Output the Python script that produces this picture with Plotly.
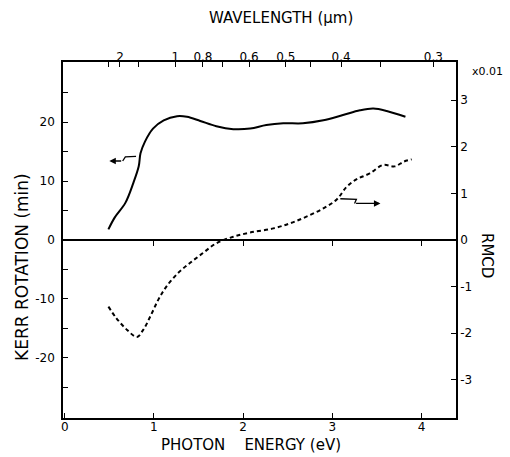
import plotly.graph_objects as go

# ---- data ----
kerr_energy = [0.49, 0.56, 0.68, 0.77, 0.83, 0.85, 0.90, 0.99, 1.11, 1.26, 1.37, 1.52, 1.70,
               1.89, 2.08, 2.26, 2.45, 2.67, 2.90, 3.12, 3.31, 3.46, 3.61, 3.82]
kerr_rot = [1.8, 3.8, 6.3, 9.7, 12.5, 14.7, 16.7, 18.9, 20.3, 21.0, 20.9, 20.2, 19.3,
            18.8, 18.9, 19.5, 19.8, 19.8, 20.3, 21.2, 22.0, 22.3, 21.9, 20.9]

rmcd_energy = [0.49, 0.58, 0.70, 0.81, 0.88, 0.96, 1.05, 1.14, 1.27, 1.40, 1.55, 1.70, 1.89,
               2.08, 2.34, 2.53, 2.71, 2.90, 3.05, 3.16, 3.27, 3.42, 3.57, 3.70, 3.80, 3.89]
rmcd = [-1.43, -1.68, -1.93, -2.08, -1.93, -1.64, -1.28, -1.00, -0.71, -0.50, -0.28, -0.07, 0.07,
        0.16, 0.25, 0.36, 0.50, 0.68, 0.87, 1.14, 1.30, 1.43, 1.61, 1.58, 1.68, 1.73]

energy_ticks = [0, 1, 2, 3, 4]
energy_ticktext = ["0", "1", "2", "3", "4"]
kerr_ticks = [-20, -10, 0, 10, 20]
kerr_ticktext = ["-20", "-10", "0", "10", "20"]
kerr_minor_ticks = [-25, -15, -5, 5, 15, 25]
rmcd_ticks = [-3, -2, -1, 0, 1, 2, 3]
rmcd_ticktext = ["-3", "-2", "-1", "0", "1", "2", "3"]
wl_ticks = [2.5, 2, 1.5, 1, 0.8, 0.7, 0.6, 0.5, 0.45, 0.4, 0.35, 0.3]
wl_ticktext = ["", "2", "", "1", "0.8", "", "0.6", "0.5", "", "0.4", "", "0.3"]
HC = 1.2398  # eV*um

# ---- layout constants ----
XR = [-0.019, 4.387]
YR = [-30.2, 30.2]
Y2R = [-3.82, 3.82]
FONT = "DejaVu Sans"
tickfont = dict(family=FONT, size=12, color="black")

fig = go.Figure()
fig.add_trace(go.Scatter(x=kerr_energy, y=kerr_rot, mode="lines", line=dict(color="black", width=2, shape="spline"),
                         showlegend=False, hoverinfo="skip"))
fig.add_trace(go.Scatter(x=rmcd_energy, y=rmcd, mode="lines", yaxis="y2",
                         line=dict(color="black", width=2, dash="4px,3px", shape="spline"),
                         showlegend=False, hoverinfo="skip"))
# empty traces to register auxiliary axes
fig.add_trace(go.Scatter(x=[], y=[], xaxis="x2", showlegend=False))
fig.add_trace(go.Scatter(x=[], y=[], xaxis="x3", showlegend=False))

axcommon = dict(showgrid=False, zeroline=False, showline=True, linecolor="black", linewidth=1.5,
                ticklen=5, tickwidth=1.3, tickcolor="black", tickfont=tickfont)

fig.update_layout(
    width=510, height=457,
    margin=dict(l=63, r=54, t=62, b=39),
    paper_bgcolor="white", plot_bgcolor="white",
    xaxis=dict(range=XR, tickvals=energy_ticks, ticktext=energy_ticktext, ticks="inside",
               ticklabelstandoff=-3, **axcommon),
    xaxis2=dict(range=XR, overlaying="x", side="top", anchor="y",
                tickvals=[HC / w for w in wl_ticks], ticktext=wl_ticktext, ticks="inside",
                ticklabelstandoff=-6, **axcommon),
    xaxis3=dict(range=XR, overlaying="x", anchor="free", position=0.5, tickvals=energy_ticks[1:],
                ticks="outside", showticklabels=False, **axcommon),
    yaxis=dict(range=YR, tickvals=kerr_ticks, ticktext=kerr_ticktext, ticks="inside",
               ticklabelstandoff=4,
               minor=dict(tickvals=kerr_minor_ticks, ticks="inside", ticklen=5, tickcolor="black", tickwidth=1.3),
               **axcommon),
    yaxis2=dict(range=Y2R, overlaying="y", side="right", anchor="x",
                tickvals=rmcd_ticks, ticktext=rmcd_ticktext, ticks="inside", **axcommon),
)


def px(x_pix, y_pix):
    """pixel position in the 510x457 canvas -> paper coords"""
    return (x_pix - 63) / 393, (418 - y_pix) / 356


labels = [
    ("WAVELENGTH (µm)", 281, 18, 0, 15),
    ("PHOTON    ENERGY (eV)", 251, 445, 0, 15),
    ("KERR ROTATION (min)", 22, 267, -90, 17),
    ("RMCD", 487, 255, 90, 15),
    ("x0.01", 487, 72, 0, 11),
]
for text, xp, yp, ang, size in labels:
    ax_, ay_ = px(xp, yp)
    fig.add_annotation(text=text, xref="paper", yref="paper", x=ax_, y=ay_, xanchor="center", yanchor="middle",
                       showarrow=False, textangle=ang, font=dict(family=FONT, size=size, color="black"))

# zigzag arrows (axis indicators)
left_arrow = [(0.80, 14.2), (0.68, 14.1), (0.65, 13.4), (0.50, 13.4)]
right_arrow = [(3.09, 7.0), (3.27, 6.9), (3.25, 6.2), (3.54, 6.2)]
for pts in (left_arrow, right_arrow):
    path = "M " + " L ".join(f"{x},{y}" for x, y in pts[:-1])
    fig.add_shape(type="path", path=path, xref="x", yref="y", line=dict(color="black", width=1.3))
    fig.add_annotation(x=pts[-1][0], y=pts[-1][1], ax=pts[-2][0], ay=pts[-2][1], xref="x", yref="y",
                       axref="x", ayref="y", text="", showarrow=True, arrowhead=2, arrowsize=1,
                       arrowwidth=1.3, arrowcolor="black")

fig.write_html("out.html", config={"displayModeBar": False},
               post_script="document.body.style.margin='0';")
